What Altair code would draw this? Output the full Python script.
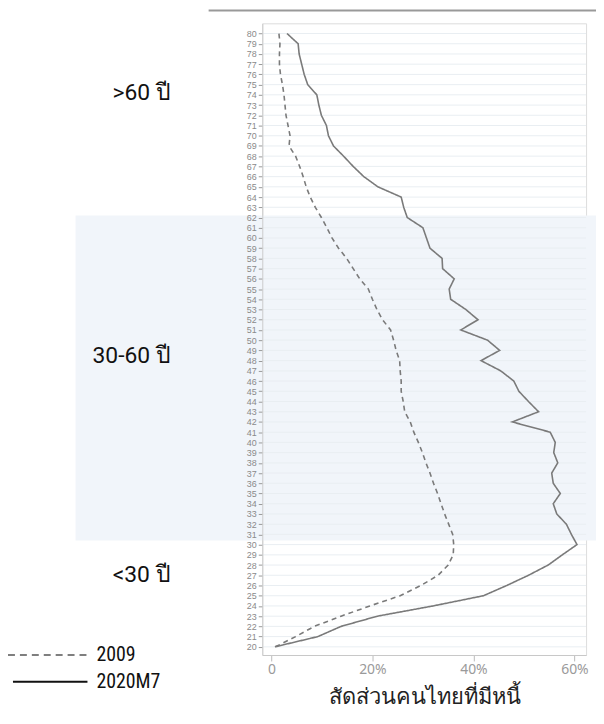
import altair as alt
import pandas as pd

ages = list(range(20, 81))
debt_2009 = [0.8, 4.8, 8.5, 13.8, 19.5, 25.5, 29.6, 33.0, 35.0, 36.0,
             36.1, 35.9, 35.1, 34.3, 33.6, 32.9, 32.1, 31.4, 30.6, 29.9,
             29.1, 28.2, 27.5, 26.4, 26.1, 25.7, 25.7, 25.5, 25.4, 24.7,
             24.2, 23.6, 22.0, 20.9, 20.0, 19.2, 17.5, 16.2, 14.9, 13.3,
             12.0, 11.0, 9.9, 8.7, 7.7, 6.9, 6.3, 5.6, 4.8, 3.5,
             3.7, 3.3, 2.9, 2.7, 2.5, 2.2, 1.8, 1.6, 1.6, 1.7, 1.5]
debt_2020 = [0.7, 9.2, 13.8, 21.0, 32.0, 42.0, 46.6, 50.9, 54.8, 57.6,
             60.5, 59.4, 58.4, 56.5, 55.8, 57.2, 55.8, 55.5, 56.7, 55.9,
             56.2, 55.2, 47.7, 52.9, 50.9, 49.0, 48.0, 45.4, 41.5, 45.2,
             42.8, 37.5, 40.9, 38.5, 35.5, 35.2, 36.2, 33.9, 33.8, 31.4,
             30.7, 30.0, 26.9, 26.2, 25.7, 21.1, 18.3, 16.2, 14.3, 12.3,
             11.3, 10.9, 9.9, 9.4, 9.0, 7.2, 6.5, 6.0, 5.5, 5.3, 3.1]
series_names = ["2009", "2020M7"]
group_labels = [">60 ปี", "30-60 ปี", "<30 ปี"]
group_label_ages = [74.2, 48.4, 27.0]
band_ages = [30.4, 62.2]
x_ticks = [0, 20, 40, 60]
x_title = "สัดส่วนคนไทยที่มีหนี้"

FONT = "Noto Sans"
W, H = 326, 636

df = pd.DataFrame({
    "age": ages * 2,
    "share": debt_2009 + debt_2020,
    "series": [series_names[0]] * len(ages) + [series_names[1]] * len(ages),
})

xs = alt.Scale(domain=[-1.8, 62.3], nice=False, zero=False)
ys = alt.Scale(domain=[19.2, 81], nice=False, zero=False)

y_axis = alt.Axis(values=ages, labelOverlap=False, title=None, grid=False, tickCount=61,
                  labelFontSize=9, labelColor="#8a8a8a", labelFont="Liberation Sans",
                  tickColor="#999999", tickSize=4, labelPadding=2, zindex=1,
                  domainColor="#cccccc", labelBaseline="middle")
x_axis = alt.Axis(values=x_ticks, title=x_title, grid=False,
                  labelExpr="datum.value == 0 ? '0' : datum.value + '%'",
                  labelFontSize=14, labelColor="#9a9a9a", labelFont=FONT,
                  tickColor="#bbbbbb", tickSize=6, domainColor="#c8c8c8",
                  titleFontSize=22, titleFont=FONT, titleColor="#222222",
                  titleFontWeight="normal", titlePadding=10)

band = alt.Chart(pd.DataFrame({"y1": [band_ages[0]], "y2": [band_ages[1]]})).mark_rect(
    color="#f1f5fa"
).encode(
    x=alt.value(-188), x2=alt.value(340),
    y=alt.Y("y1:Q", scale=ys, axis=y_axis), y2="y2:Q",
)

grid = alt.Chart(pd.DataFrame({"age": ages})).mark_rule(color="#e9eef2", strokeWidth=1).encode(
    y=alt.Y("age:Q", scale=ys, axis=y_axis),
    x=alt.value(0), x2=alt.value(W),
)

lines = alt.Chart(df).mark_line(color="#7a7a7a", strokeWidth=1.6).encode(
    x=alt.X("share:Q", scale=xs, axis=x_axis),
    y=alt.Y("age:Q", scale=ys, axis=y_axis),
    strokeDash=alt.StrokeDash("series:N", scale=alt.Scale(domain=series_names, range=[[5, 4], [1, 0]]),
                              legend=None),
    detail="series:N",
    order="age:Q",
)

glab = alt.Chart(pd.DataFrame({"label": group_labels, "age": group_label_ages, "xp": [-122, -132, -122]})).mark_text(
    font="Roboto", fontSize=23, color="#111111", align="center", baseline="middle"
).encode(x=alt.X("xp:Q", scale=None), y=alt.Y("age:Q", scale=ys, axis=y_axis), text="label:N")

top_rule = alt.Chart(pd.DataFrame({"a": [0]})).mark_rule(color="#999999", strokeWidth=2).encode(
    x=alt.value(-54), x2=alt.value(340), y=alt.value(-13)
)

leg_df = pd.DataFrame({
    "series": series_names,
    "x1": [-256, -251], "x2": [-176, -176], "yp": [636, 663],
    "tx": [-167, -167],
})
leg_dash = alt.Chart(leg_df.iloc[[0]]).mark_rule(color="#555555", strokeWidth=1.6, strokeDash=[7, 5]).encode(
    x=alt.X("x1:Q", scale=None), x2="x2:Q", y=alt.Y("yp:Q", scale=None)
)
leg_solid = alt.Chart(leg_df.iloc[[1]]).mark_rule(color="#111111", strokeWidth=2).encode(
    x=alt.X("x1:Q", scale=None), x2="x2:Q", y=alt.Y("yp:Q", scale=None)
)
leg_text = alt.Chart(leg_df).mark_text(font="Roboto Condensed, Roboto", fontSize=20, color="#111111",
                                        align="left", baseline="middle").encode(
    x=alt.X("tx:Q", scale=None), y=alt.Y("yp:Q", scale=None), text="series:N"
)

chart = alt.layer(band, grid, lines, glab, top_rule, leg_dash, leg_solid, leg_text).properties(
    width=W, height=H,
    autosize=alt.AutoSizeParams(type="none"),
    padding={"left": 256, "top": 13, "right": 10, "bottom": 58},
).configure_view(stroke=None).configure(background="white")

chart.save("out.html", embed_options={"renderer": "svg", "actions": False})
